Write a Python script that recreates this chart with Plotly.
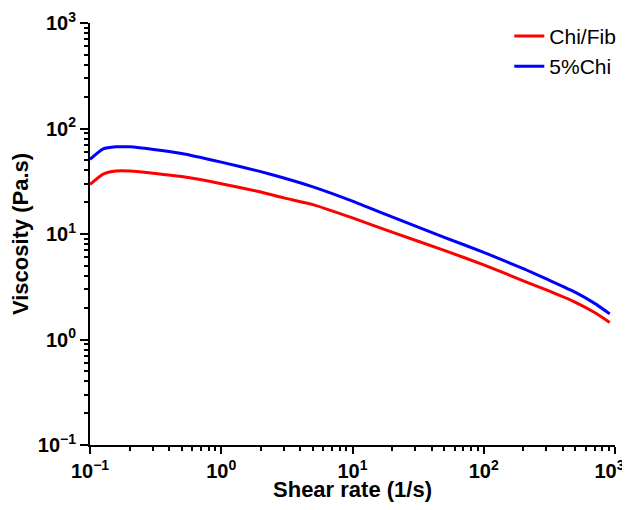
import plotly.graph_objects as go

shear_rate = [0.1, 0.126, 0.158, 0.2, 0.316, 0.5, 1, 2, 3, 5, 10, 20, 50, 100, 200, 300, 500, 700, 912]
visc_chi_fib = [29.5, 37, 39.5, 39.5, 37.5, 35, 30, 25, 22, 19, 14.2, 10.4, 7.0, 5.1, 3.6, 2.95, 2.25, 1.8, 1.45]
visc_5chi = [51, 64, 67, 67, 63, 58, 48, 39, 34, 28, 20.5, 14.5, 9.3, 6.7, 4.7, 3.75, 2.8, 2.2, 1.75]

tick_vals = [0.1, 1, 10, 100, 1000]
y_tick_text = ["10<sup>\u22121</sup>", "10<sup>0</sup>", "10<sup>1</sup>", "10<sup>2</sup>", "10<sup>3</sup>"]
x_tick_text = ["10<sup>\u22121</sup>", "10<sup>0</sup>", "10<sup>1</sup>", "10<sup>2</sup>",
               "10<sup>3</sup>\u00a0\u00a0"]
minor_vals = [m * 10 ** e for e in range(-1, 3) for m in range(2, 10)]

fig = go.Figure()
fig.add_trace(go.Scatter(x=shear_rate, y=visc_chi_fib, mode="lines", name="Chi/Fib",
                         line=dict(color="#ff0000", width=3, shape="spline", smoothing=0.5)))
fig.add_trace(go.Scatter(x=shear_rate, y=visc_5chi, mode="lines", name="5%Chi",
                         line=dict(color="#0000ff", width=3, shape="spline", smoothing=0.5)))

axis_common = dict(
    type="log", tickmode="array", tickvals=tick_vals,
    showgrid=False, zeroline=False, automargin=False, ticklabeloverflow="allow",
    showline=True, linecolor="black", linewidth=2,
    ticks="outside", tickwidth=2, tickcolor="black",
    minor=dict(ticks="outside", ticklen=4, tickwidth=1.5, tickcolor="black",
               tickmode="array", tickvals=minor_vals, showgrid=False),
    tickfont=dict(family="Liberation Sans", size=20, color="black", weight="bold"),
    title_font=dict(family="Liberation Sans", size=22, color="black", weight="bold"),
)

fig.update_xaxes(range=[-1, 3], ticktext=x_tick_text, ticklen=7,
                 title_text="Shear rate (1/s)", title_standoff=7, **axis_common)
fig.update_yaxes(range=[-1, 3], ticktext=y_tick_text, ticklen=8,
                 title_text="Viscosity (Pa.s)", title_standoff=12, **axis_common)

fig.update_layout(
    width=622, height=494,
    margin=dict(l=82, r=15, t=15, b=57, autoexpand=False),
    paper_bgcolor="white", plot_bgcolor="white",
    showlegend=True,
    legend=dict(x=1.012, y=1.017, xanchor="right", yanchor="top",
                font=dict(family="Liberation Sans", size=21, color="black"),
                tracegroupgap=0,
                bgcolor="rgba(0,0,0,0)"),
)

fig.write_html("out.html")
